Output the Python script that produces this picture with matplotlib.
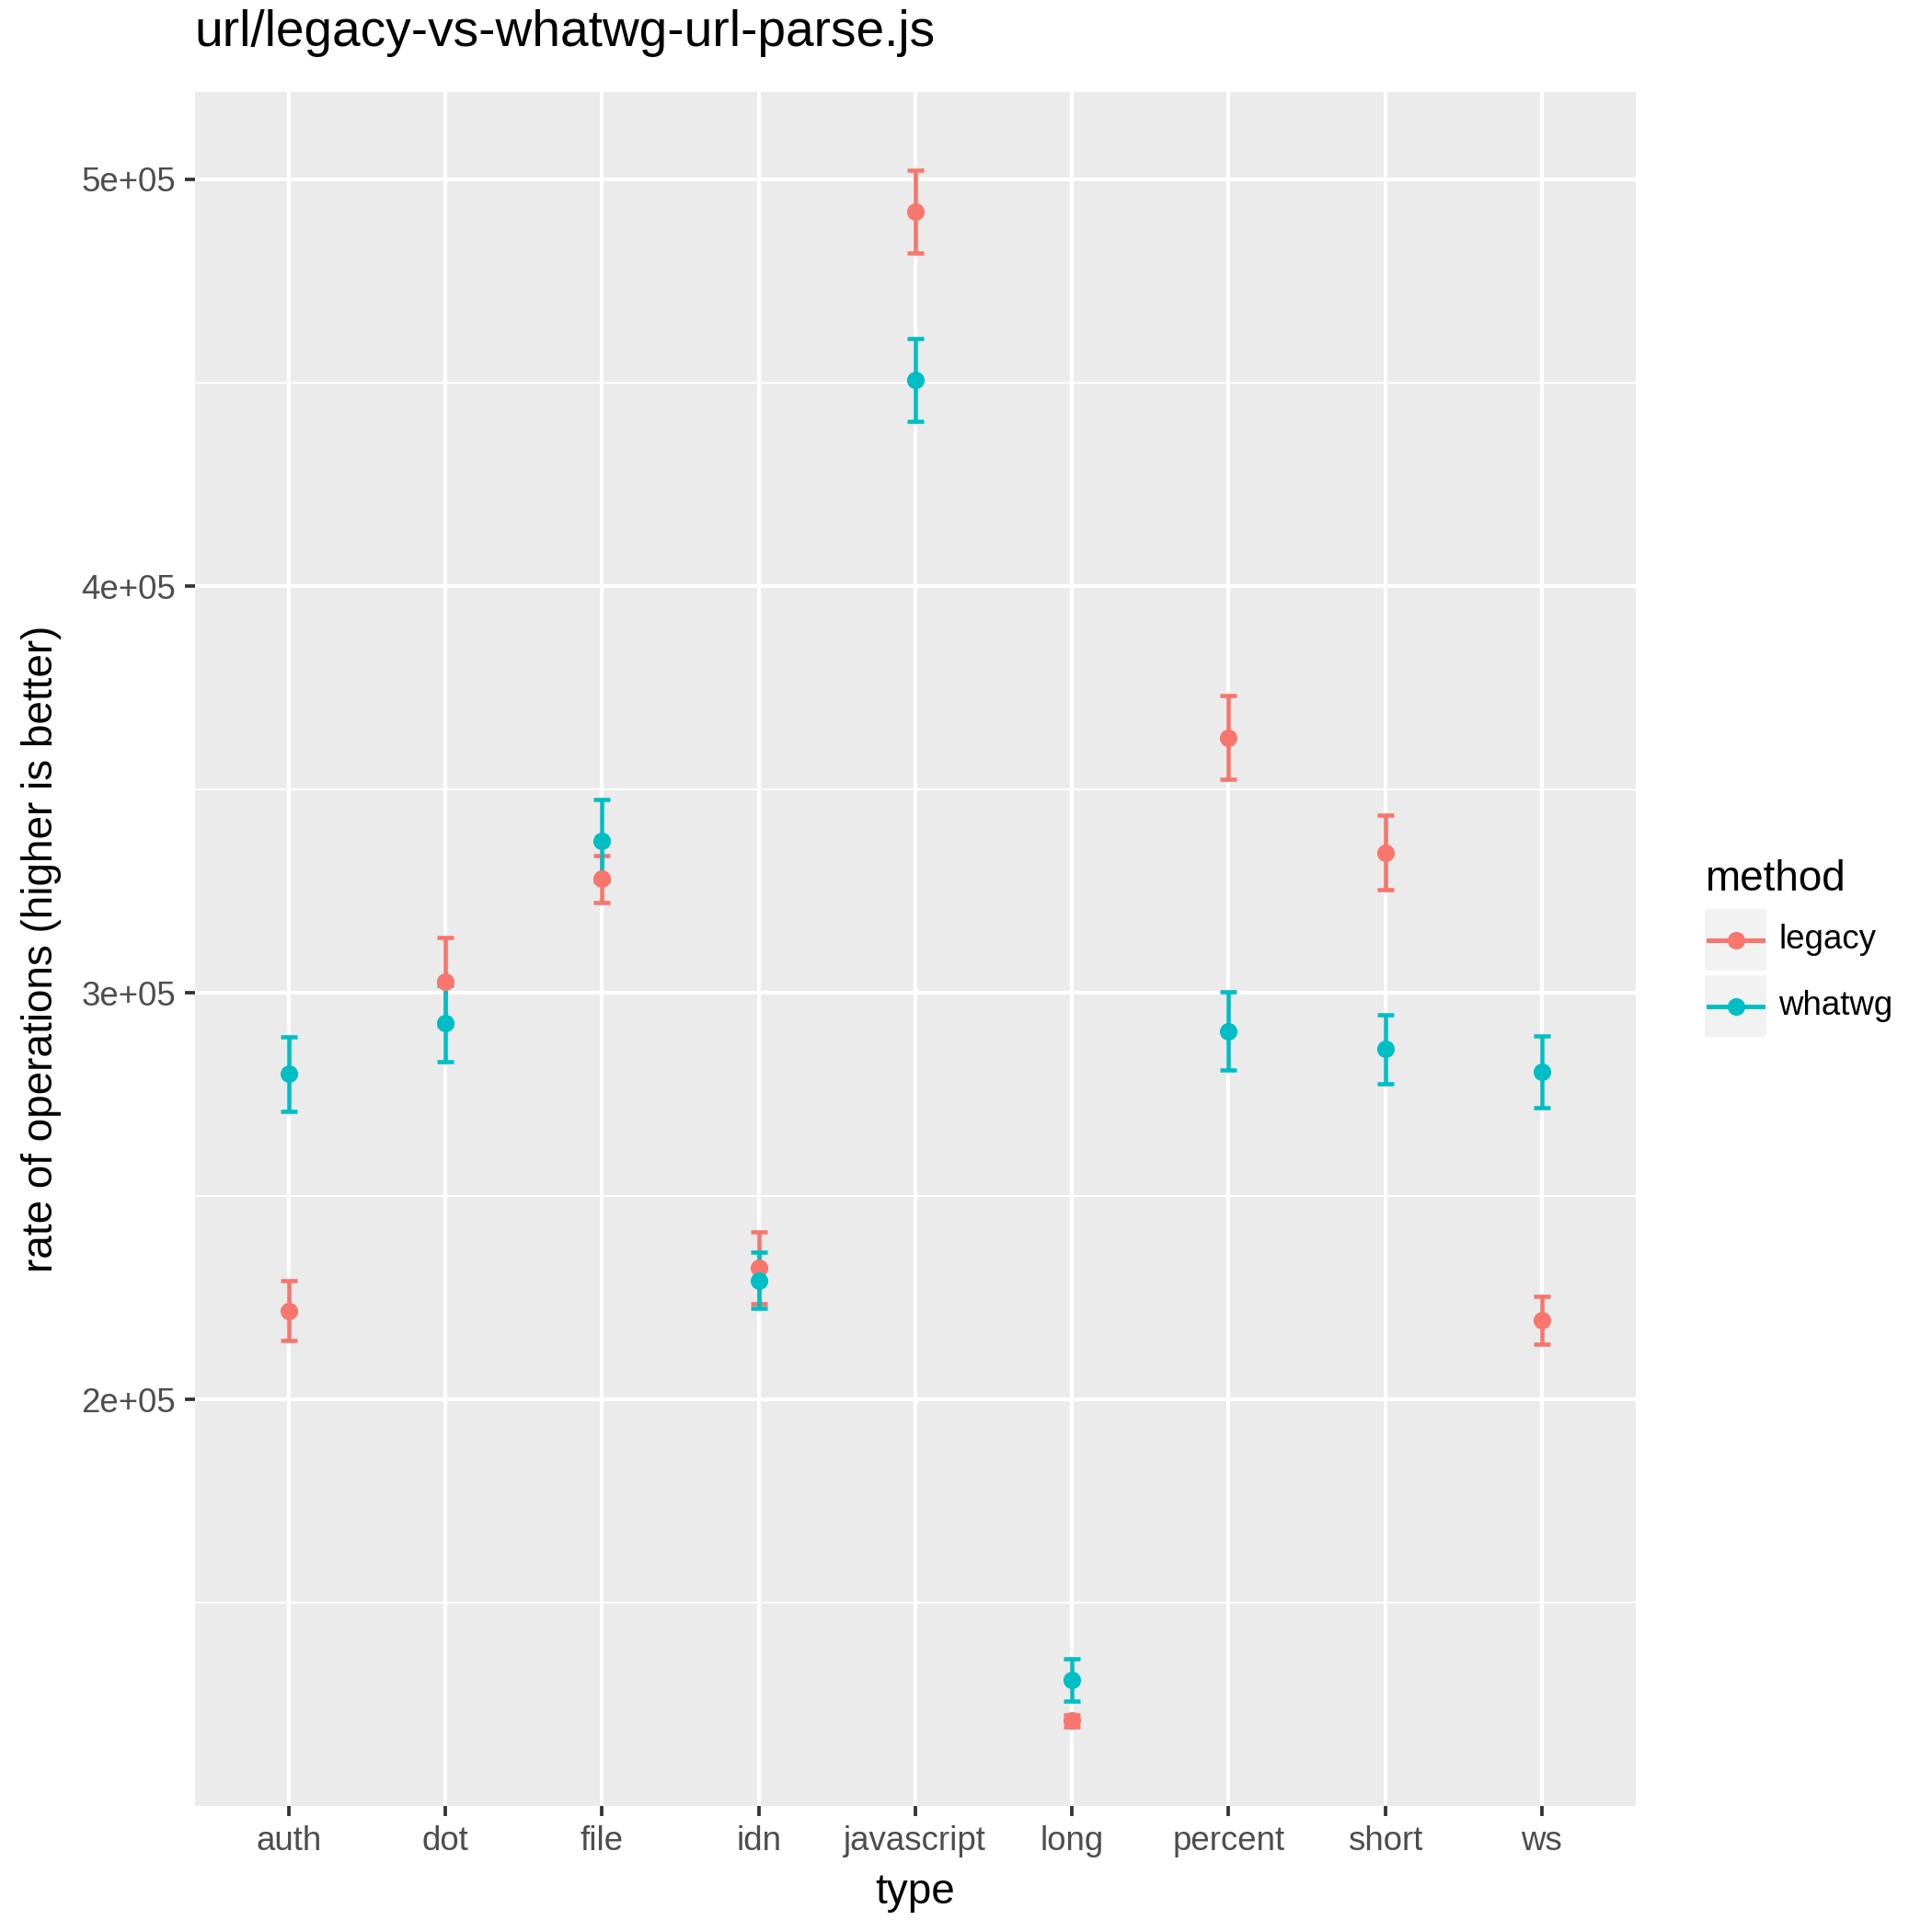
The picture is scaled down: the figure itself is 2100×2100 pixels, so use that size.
import matplotlib
matplotlib.use('Agg')
import matplotlib.pyplot as plt
from matplotlib.lines import Line2D
from matplotlib.patches import Rectangle
from matplotlib.ticker import FixedLocator, FuncFormatter

# ---- data ----
types = ['auth', 'dot', 'file', 'idn', 'javascript', 'long', 'percent', 'short', 'ws']
legacy_rate = [221800, 302700, 328000, 232300, 492100, 121000, 362700, 334500, 219400]
legacy_err = [7300, 10900, 5800, 8800, 10150, 1500, 10300, 9200, 5900]
whatwg_rate = [280000, 292500, 337400, 229300, 450600, 131000, 290600, 286100, 280600]
whatwg_err = [9100, 9400, 10100, 6900, 10150, 5300, 9700, 8500, 8800]

methods = ['legacy', 'whatwg']
colors = {'legacy': '#F8766D', 'whatwg': '#00BFC4'}

plt.rcParams['font.family'] = ['Liberation Sans', 'DejaVu Sans']

fig = plt.figure(figsize=(7, 7), dpi=300)
ax = fig.add_axes([0.1008, 0.0652, 0.7459, 0.8872])
ax.set_facecolor('#EBEBEB')
for s in ax.spines.values():
    s.set_visible(False)

x = list(range(len(types)))
series = {'legacy': (legacy_rate, legacy_err), 'whatwg': (whatwg_rate, whatwg_err)}

# error bars first, then the points (ggplot layer order)
for m in methods:
    vals, errs = series[m]
    ax.errorbar(x, vals, yerr=errs, fmt='none', ecolor=colors[m], elinewidth=1.1,
                capsize=2.1, capthick=1.1, zorder=3)
for m in methods:
    vals, errs = series[m]
    ax.plot(x, vals, 'o', color=colors[m], markersize=4.6, markeredgewidth=0, zorder=4)

ax.set_xlim(-0.6, len(types) - 0.4)
ax.set_ylim(100000, 521500)

ax.yaxis.set_major_locator(FixedLocator([200000, 300000, 400000, 500000]))
ax.yaxis.set_minor_locator(FixedLocator([150000, 250000, 350000, 450000]))
ax.yaxis.set_major_formatter(FuncFormatter(lambda v, p: '%de+05' % int(round(v / 100000))))
ax.set_xticks(x)
ax.set_xticklabels(types)

ax.grid(True, which='major', color='white', linewidth=1.0)
ax.grid(True, which='minor', axis='y', color='white', linewidth=0.5)
ax.set_axisbelow(True)

ax.tick_params(axis='both', which='major', length=2.75, width=0.9, color='#333333',
               labelsize=8.8, labelcolor='#4D4D4D', pad=2.2)
ax.tick_params(axis='y', which='minor', length=0)

ax.set_xlabel('type', fontsize=11, color='black', labelpad=4)
ax.set_ylabel('rate of operations (higher is better)', fontsize=11, color='black', labelpad=5)
fig.text(0.1008, 0.976, 'url/legacy-vs-whatwg-url-parse.js', fontsize=13.2,
         ha='left', va='baseline')

# ---- legend drawn by hand to match ggplot keys ----
fig.text(1853 / 2100, 1 - 968 / 2100, 'method', fontsize=11, ha='left', va='baseline')
key_w = 67 / 2100
key_tops = [988, 1060]
for m, top in zip(methods, key_tops):
    y0 = 1 - (top + 67) / 2100
    fig.add_artist(Rectangle((1853 / 2100, y0), key_w, key_w, transform=fig.transFigure,
                             facecolor='#F2F2F2', edgecolor='none'))
    yc = y0 + key_w / 2
    fig.add_artist(Line2D([1857 / 2100, 1916 / 2100], [yc, yc], transform=fig.transFigure,
                          color=colors[m], linewidth=1.2))
    fig.add_artist(Line2D([1886.5 / 2100], [yc], transform=fig.transFigure, marker='o',
                          color=colors[m], markersize=4.6, markeredgewidth=0))
    fig.text(1933 / 2100, yc, m, fontsize=8.8, ha='left', va='center')

fig.savefig('out.png', dpi=300)
